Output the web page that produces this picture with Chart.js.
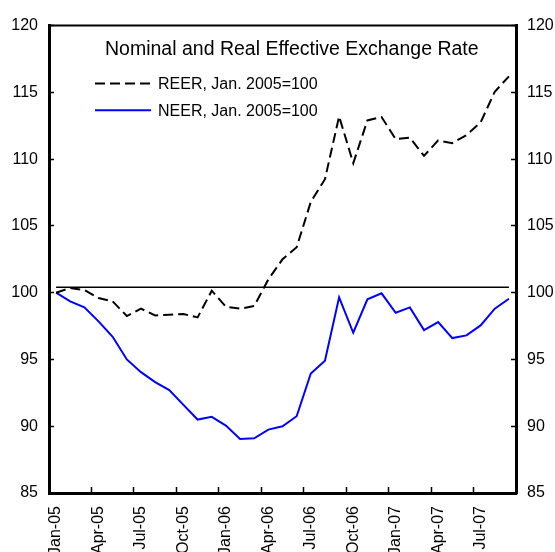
<!DOCTYPE html>
<html>
<head>
<meta charset="utf-8">
<script src="https://cdn.jsdelivr.net/npm/chart.js@4/dist/chart.umd.min.js"></script>
<style>
  html, body { margin: 0; padding: 0; background: #fff; }
  #wrap { width: 555px; height: 552px; position: relative; }
</style>
</head>
<body>
<div id="wrap"><canvas id="c" width="555" height="552"></canvas></div>
<script>
const months = ["Jan-05","Feb-05","Mar-05","Apr-05","May-05","Jun-05","Jul-05","Aug-05","Sep-05","Oct-05","Nov-05","Dec-05",
                "Jan-06","Feb-06","Mar-06","Apr-06","May-06","Jun-06","Jul-06","Aug-06","Sep-06","Oct-06","Nov-06","Dec-06",
                "Jan-07","Feb-07","Mar-07","Apr-07","May-07","Jun-07","Jul-07","Aug-07","Sep-07"];
const reer = [100.0,100.35,100.2,99.6,99.35,98.25,98.8,98.3,98.35,98.4,98.15,100.15,
              98.95,98.8,99.0,101.0,102.5,103.4,106.8,108.5,113.2,109.7,112.9,113.15,
              111.5,111.6,110.25,111.4,111.2,111.8,112.75,115.05,116.2];
const neer = [100.0,99.35,98.9,97.85,96.7,95.0,94.05,93.3,92.7,91.6,90.5,90.7,
              90.05,89.05,89.1,89.75,90.0,90.75,93.95,94.9,99.65,97.0,99.5,99.95,
              98.5,98.9,97.2,97.8,96.6,96.8,97.55,98.8,99.55];
const baseline = [100.4,100.4,100.4,100.4,100.4,100.4,100.4,100.4,100.4,100.4,100.4,100.4,
                  100.4,100.4,100.4,100.4,100.4,100.4,100.4,100.4,100.4,100.4,100.4,100.4,
                  100.4,100.4,100.4,100.4,100.4,100.4,100.4,100.4,100.4];
const yTicks = [85, 90, 95, 100, 105, 110, 115, 120];
const titleText = "Nominal and Real Effective Exchange Rate";

const FONT = "'Liberation Sans', Arial, sans-serif";

const overlay = {
  id: 'overlay',
  afterDraw(chart) {
    const ctx = chart.ctx;
    const a = chart.chartArea;
    ctx.save();
    ctx.strokeStyle = '#000';
    ctx.lineWidth = 2;
    ctx.beginPath();
    ctx.moveTo(a.left - 1, a.top);
    ctx.lineTo(a.right + 1, a.top);
    ctx.stroke();
    ctx.fillStyle = '#000';
    ctx.font = "19.5px " + FONT;
    ctx.textAlign = 'left';
    ctx.textBaseline = 'alphabetic';
    ctx.fillText(titleText, a.left + 56, a.top + 29);
    const items = [chart.data.datasets[0], chart.data.datasets[1]];
    const rows = [{line: a.top + 58, text: a.top + 63.7}, {line: a.top + 84.7, text: a.top + 90.3}];
    ctx.font = "16px " + FONT;
    items.forEach((ds, i) => {
      ctx.strokeStyle = ds.borderColor;
      ctx.lineWidth = ds.borderWidth;
      ctx.setLineDash(ds.borderDash || []);
      ctx.beginPath();
      ctx.moveTo(a.left + 46, rows[i].line);
      ctx.lineTo(a.left + 102, rows[i].line);
      ctx.stroke();
      ctx.setLineDash([]);
      ctx.fillText(ds.label, a.left + 109, rows[i].text);
    });
    ctx.restore();
  }
};

const yCommon = {
  type: 'linear',
  min: 85, max: 120,
  afterBuildTicks(scale) { scale.ticks = yTicks.map(v => ({ value: v })); },
  ticks: { color: '#000', font: { family: FONT, size: 16 }, padding: 16 },
  grid: { drawOnChartArea: false, drawTicks: true, tickLength: -5, tickWidth: 1.5, tickColor: '#000' },
  border: { display: true, color: '#000', width: 3 }
};

new Chart(document.getElementById('c'), {
  type: 'line',
  data: {
    labels: months,
    datasets: [
      { label: 'REER, Jan. 2005=100', data: reer, borderColor: '#000', borderWidth: 2, borderDash: [10, 5],
        pointRadius: 0, tension: 0, fill: false, yAxisID: 'y' },
      { label: 'NEER, Jan. 2005=100', data: neer, borderColor: '#0000FF', borderWidth: 2,
        pointRadius: 0, tension: 0, fill: false, yAxisID: 'y' },
      { label: 'base', data: baseline, borderColor: '#000', borderWidth: 1.5,
        pointRadius: 0, tension: 0, fill: false, yAxisID: 'y' }
    ]
  },
  options: {
    responsive: false,
    animation: false,
    layout: { padding: { top: 18, left: 0, right: 0, bottom: 0 } },
    plugins: { legend: { display: false }, title: { display: false }, tooltip: { enabled: false } },
    scales: {
      x: {
        type: 'category',
        offset: true,
        afterFit(scale) { scale.height = 59; },
        ticks: {
          autoSkip: false, minRotation: 90, maxRotation: 90, padding: 19,
          color: '#000', font: { family: FONT, size: 16 },
          callback(v, i) { return i % 3 === 0 ? this.getLabelForValue(v) : ''; }
        },
        grid: {
          offset: true, drawOnChartArea: false, drawTicks: true, tickLength: -6, tickWidth: 1.5,
          tickColor: (ctx) => (ctx.index % 3 === 0 ? '#000' : 'rgba(0,0,0,0)')
        },
        border: { display: true, color: '#000', width: 3 }
      },
      y: Object.assign({}, yCommon, { position: 'left', afterFit(scale) { scale.width = 49; } }),
      y2: Object.assign({}, yCommon, { position: 'right', afterFit(scale) { scale.width = 39; } })
    }
  },
  plugins: [overlay]
});
</script>
</body>
</html>
